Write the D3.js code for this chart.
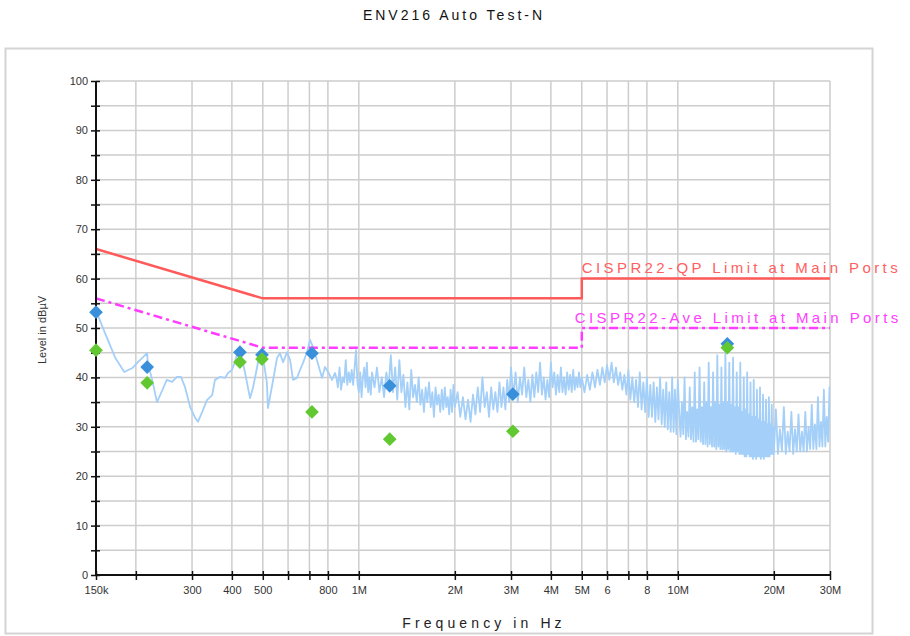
<!DOCTYPE html>
<html>
<head>
<meta charset="utf-8">
<script src="https://cdn.jsdelivr.net/npm/d3@7"></script>
<style>
  body { margin: 0; background: #fff; }
  svg { display: block; font-family: Arial, "Liberation Sans", sans-serif; }
</style>
</head>
<body>
<svg id="chart" width="910" height="636"></svg>
<script>
// limit lines (MHz, dBuV)
const qpLimitMHz = [0.15, 0.5, 5, 5, 30];
const qpLimitDb = [66, 56, 56, 60, 60];
const avgLimitMHz = [0.15, 0.5, 5, 5, 30];
const avgLimitDb = [56, 46, 46, 50, 50];

// final measurement points
const peakFreqMHz = [0.15, 0.217, 0.424, 0.497, 0.713, 1.25, 3.04, 14.3];
const qpLevelDb = [53.2, 42.1, 45.1, 44.6, 44.9, 38.3, 36.6, 46.8];
const avgLevelDb = [45.5, 38.9, 43.1, 43.7, 33.0, 27.5, 29.1, 46.0];

// prescan trace [MHz, dBuV]
const spectrumLow = [
  [0.150,53],[0.152,52.6],[0.160,49],[0.172,44.1],[0.184,41.1],[0.195,41.9],[0.203,43.1],[0.217,44.9],
  [0.218,42.9],[0.225,39.5],[0.233,35.0],[0.242,37.4],[0.250,39.5],[0.260,39.1],[0.269,40.1],[0.277,40.1],
  [0.285,38.1],[0.296,34.0],[0.307,31.8],[0.313,31.0],[0.322,32.8],[0.334,35.4],[0.347,36.4],[0.354,39.5],
  [0.367,40.1],[0.381,39.9],[0.389,40.9],[0.400,41.5],[0.409,43.1],[0.418,45.5],[0.430,43.9],[0.440,40.9],
  [0.456,35.8],[0.466,37.9],[0.480,42.1],[0.490,45.1],[0.501,44.1],[0.515,38.9],[0.519,33.8],[0.534,38.1],
  [0.554,43.9],[0.566,44.9],[0.579,43.1],[0.596,45.1],[0.609,43.5],[0.622,39.5],[0.640,39.9],[0.654,41.5],
  [0.668,42.9],[0.688,45.1],[0.703,47.6],[0.718,46.2],[0.739,43.5],[0.767,39.9],[0.783,42.1],[0.801,41.1],
  [0.824,39.5],[0.842,40.9]
];
const spectrumMid = [
  [0.85,40],[0.86,38],[0.87,42],[0.88,37.5],[0.89,40],[0.90,39],[0.91,43.5],[0.92,38.5],[0.93,41],[0.94,39],
  [0.95,41.5],[0.96,38.5],[0.97,42],[0.98,45.5],[0.99,39],[1.00,37],[1.01,41],[1.02,36],[1.03,40],[1.04,42],
  [1.05,38],[1.06,43],[1.07,37],[1.08,40],[1.09,36.5],[1.10,41],[1.12,38],[1.14,42],[1.16,37],[1.18,40],
  [1.20,36],[1.22,41],[1.24,38],[1.26,44.5],[1.28,37],[1.30,42],[1.32,35.5],[1.34,43.5],[1.36,37],[1.38,40.5],
  [1.40,34],[1.42,39],[1.44,33.5],[1.46,41.5],[1.48,36],[1.50,38.5],[1.52,35],[1.54,40],[1.56,34.5],[1.58,37.5],
  [1.60,33],[1.62,38],[1.64,35],[1.66,39],[1.68,34],[1.70,37],[1.72,32],[1.74,38],[1.76,34.5],[1.78,36.5],
  [1.80,33],[1.82,37.5],[1.84,33.5],[1.86,38],[1.88,34],[1.90,36],[1.92,32.5],[1.94,37.5],[1.96,33],[1.98,38.5],
  [2.00,34],[2.04,37],[2.08,32],[2.12,36],[2.16,31.5],[2.20,35.5],[2.24,31],[2.28,36.5],[2.32,32.5],[2.36,38],
  [2.40,33],[2.44,40],[2.48,34],[2.52,37],[2.56,32],[2.60,38],[2.64,33.5],[2.68,37],[2.72,33],[2.76,39],
  [2.80,34],[2.84,38],[2.88,33.5],[2.92,39.5],[2.96,35],[3.00,42],[3.05,36],[3.10,41],[3.15,35],[3.20,40],
  [3.25,36.5],[3.30,42],[3.35,36],[3.40,39.5],[3.45,35],[3.50,40.5],[3.55,36],[3.60,41],[3.65,37],[3.70,43],
  [3.75,36.5],[3.80,40],[3.85,35.5],[3.90,39.5],[3.95,36],[4.00,43],[4.05,38],[4.10,41],[4.15,36.5],[4.20,40.5],
  [4.25,37],[4.30,42],[4.35,37],[4.40,40],[4.45,36.5],[4.50,41],[4.55,37.5],[4.60,40.5],[4.65,37],[4.70,41.5],
  [4.75,37.5],[4.80,40],[4.85,38],[4.90,41],[4.95,38],[5.00,40]
];
const spectrumHigh = [
  [5.1,37],[5.2,40.5],[5.3,37.5],[5.4,41],[5.5,38],[5.6,41.5],[5.7,38.5],[5.8,42],[5.9,39],[6.0,42.5],
  [6.1,39.5],[6.2,43],[6.3,39],[6.4,42],[6.5,38.5],[6.6,41],[6.7,37.5],[6.8,40.5],[6.9,36.5],[7.0,41.5],
  [7.1,35.5],[7.2,40],[7.3,35],[7.4,39.5],[7.5,34],[7.6,41],[7.7,33.5],[7.8,39],[7.9,33],[8.0,40],
  [8.1,32],[8.2,38.5],[8.3,32],[8.4,39],[8.5,31],[8.6,38],[8.7,31.5],[8.8,40],[8.9,30.5],[9.0,37.5],
  [9.1,30],[9.2,39],[9.3,29.5],[9.4,37],[9.5,29],[9.6,40],[9.7,29],[9.8,37.5],[9.9,28.5],[10.0,39.5],
  [10.1,33],[10.2,28],[10.3,35],[10.4,28.5],[10.5,40],[10.6,27.5],[10.7,33],[10.8,28],[10.9,38],[11.0,27.5],
  [11.1,34],[11.2,27],[11.3,41],[11.4,27],[11.5,33.5],[11.6,27.5],[11.7,42],[11.8,27],[11.9,34],[12.0,26.5],
  [12.1,39],[12.2,26.5],[12.3,35],[12.4,26],[12.5,43],[12.6,26.5],[12.7,34],[12.8,26],[12.9,41],[13.0,26],
  [13.1,35],[13.2,25.5],[13.3,44.5],[13.4,26],[13.5,34.5],[13.6,25.5],[13.7,42],[13.8,25.5],[13.9,35],[14.0,25.5],
  [14.1,45.5],[14.2,25],[14.3,35],[14.4,25.5],[14.5,43],[14.6,25],[14.7,34.5],[14.8,25],[14.9,44],[15.0,25],
  [15.1,34],[15.2,24.5],[15.3,41],[15.4,25],[15.5,34],[15.6,24.5],[15.7,43],[15.8,24.5],[15.9,33],[16.0,24.5],
  [16.1,40],[16.2,24],[16.3,33.5],[16.4,24],[16.5,41],[16.6,24.5],[16.7,32.5],[16.8,24],[16.9,39],[17.0,24],
  [17.1,32],[17.2,23.5],[17.3,39.5],[17.4,24],[17.5,32],[17.6,23.5],[17.7,37.5],[17.8,24],[17.9,31.5],[18.0,24],
  [18.1,38],[18.2,23.5],[18.3,31],[18.4,24],[18.5,36.5],[18.6,23.5],[18.7,31],[18.8,24],[18.9,35.5],[19.0,24],
  [19.1,30.5],[19.2,24],[19.3,36],[19.4,24],[19.5,30.5],[19.6,24.5],[19.7,34.5],[19.8,24.5],[19.9,30],[20.0,24.5],
  [20.3,33.5],[20.6,24.5],[20.9,29.5],[21.2,25],[21.5,34],[21.8,24.5],[22.1,29],[22.4,25],[22.7,33],[23.0,24.5],
  [23.3,29.5],[23.6,25],[23.9,32.5],[24.2,25],[24.5,29],[24.8,25],[25.1,33],[25.4,25],[25.7,30],[26.0,25.5],
  [26.3,34.5],[26.6,25.5],[26.9,30.5],[27.2,25.5],[27.5,36],[27.8,26],[28.1,31],[28.4,26],[28.7,37.5],[29.0,26],
  [29.3,32],[29.6,27],[29.9,38],[30.0,33]
];

// axis ticks
const xTickMHz = [0.15, 0.2, 0.3, 0.4, 0.5, 0.6, 0.7, 0.8, 1, 2, 3, 4, 5, 6, 7, 8, 10, 20, 30];
const xTickLabels = ['150k', '', '300', '400', '500', '', '', '800', '1M', '2M', '3M', '4M', '5M', '6', '', '8', '10M', '20M', '30M'];
const yTicks = [0, 5, 10, 15, 20, 25, 30, 35, 40, 45, 50, 55, 60, 65, 70, 75, 80, 85, 90, 95, 100];

const svg = d3.select('#chart');
const x = d3.scaleLog().domain([0.15, 30]).range([96, 830]);
const y = d3.scaleLinear().domain([0, 100]).range([575, 81]);

svg.append('rect')
    .attr('width', 910).attr('height', 636).attr('fill', '#fff');

// outer frame
svg.append('rect')
    .attr('x', 5.5).attr('y', 48.5)
    .attr('width', 867).attr('height', 585)
    .attr('fill', 'none')
    .attr('stroke', '#d4d4d4')
    .attr('stroke-width', 2);

svg.append('text')
    .attr('x', 454).attr('y', 20)
    .attr('text-anchor', 'middle')
    .attr('font-size', 14)
    .attr('letter-spacing', 3)
    .attr('fill', '#111')
    .text('ENV216 Auto Test-N');

// grid
const grid = svg.append('g').attr('stroke', '#cdcdcd').attr('stroke-width', 1.5);
grid.selectAll('line.h').data(yTicks).enter()
    .append('line')
    .classed('h', true)
    .attr('x1', x(0.15)).attr('x2', x(30))
    .attr('y1', d => y(d)).attr('y2', d => y(d));
grid.selectAll('line.v').data(xTickMHz).enter()
    .append('line')
    .classed('v', true)
    .attr('x1', d => x(d)).attr('x2', d => x(d))
    .attr('y1', y(0)).attr('y2', y(100));

// clip for the data
svg.append('clipPath').attr('id', 'plot')
    .append('rect')
    .attr('x', x(0.15)).attr('y', y(100))
    .attr('width', x(30) - x(0.15)).attr('height', y(0) - y(100));

const plot = svg.append('g').attr('clip-path', 'url(#plot)');

const line = d3.line()
    .x(d => x(d[0]))
    .y(d => y(d[1]));

const spectrum = spectrumLow.concat(spectrumMid, spectrumHigh);
plot.append('path')
    .datum(spectrum)
    .attr('d', line)
    .attr('fill', 'none')
    .attr('stroke', '#a3cff9')
    .attr('stroke-width', 1.8)
    .attr('stroke-linejoin', 'round');

plot.append('path')
    .datum(qpLimitMHz.map((f, i) => [f, qpLimitDb[i]]))
    .attr('d', line)
    .attr('fill', 'none')
    .attr('stroke', '#ff5a5a')
    .attr('stroke-width', 2.5);

plot.append('path')
    .datum(avgLimitMHz.map((f, i) => [f, avgLimitDb[i]]))
    .attr('d', line)
    .attr('fill', 'none')
    .attr('stroke', '#ff3cff')
    .attr('stroke-width', 2.5)
    .attr('stroke-dasharray', '9,4,3,4');

// limit labels
svg.append('text')
    .attr('x', x(5)).attr('y', y(60) - 6)
    .attr('font-size', 15)
    .attr('letter-spacing', 3.4)
    .attr('fill', '#ff6060')
    .text('CISPR22-QP Limit at Main Ports');
svg.append('text')
    .attr('x', x(5) - 7).attr('y', y(50) - 5)
    .attr('font-size', 15)
    .attr('letter-spacing', 3.4)
    .attr('fill', '#ff40ff')
    .text('CISPR22-Ave Limit at Main Ports');

// axes
const yAxis = svg.append('g')
    .attr('transform', `translate(${x(0.15)},0)`)
    .call(d3.axisLeft(y).tickValues(yTicks).tickSize(5).tickPadding(3)
        .tickFormat(d => d % 10 === 0 ? d : ''));
yAxis.selectAll('.tick line').attr('x1', 4).attr('stroke-width', 1.5);

const xAxis = svg.append('g')
    .attr('transform', `translate(0,${y(0)})`)
    .call(d3.axisBottom(x).tickValues(xTickMHz).tickSize(5).tickPadding(6)
        .tickFormat((d, i) => xTickLabels[i]));
xAxis.selectAll('.tick line').attr('y1', -4).attr('stroke-width', 1.5);

[yAxis, xAxis].forEach(a => {
    a.select('.domain').attr('stroke', '#111').attr('stroke-width', 2);
    a.selectAll('.tick line').attr('stroke', '#111');
    a.selectAll('.tick text')
        .attr('font-size', 11)
        .attr('font-family', 'Arial, "Liberation Sans", sans-serif')
        .attr('fill', '#333');
});
yAxis.select('.domain').attr('d', `M0,${y(0)}V${y(100)}`);
xAxis.select('.domain').attr('d', `M${x(0.15)},0H${x(30)}`);

// measured points
const diamond = d3.symbol().type(d3.symbolDiamond2).size(120);
svg.append('g').selectAll('path')
    .data(peakFreqMHz).enter()
    .append('path')
    .attr('d', diamond)
    .attr('transform', (d, i) => `translate(${x(d)},${y(qpLevelDb[i])})`)
    .attr('fill', '#3a8fda');
svg.append('g').selectAll('path')
    .data(peakFreqMHz).enter()
    .append('path')
    .attr('d', diamond)
    .attr('transform', (d, i) => `translate(${x(d)},${y(avgLevelDb[i])})`)
    .attr('fill', '#62c832');

// axis titles
svg.append('text')
    .attr('transform', `translate(46,${y(50) + 2}) rotate(-90)`)
    .attr('text-anchor', 'middle')
    .attr('font-size', 11)
    .attr('fill', '#333')
    .text('Level in dBµV');
svg.append('text')
    .attr('x', 484).attr('y', 628)
    .attr('text-anchor', 'middle')
    .attr('font-size', 14)
    .attr('letter-spacing', 4.1)
    .attr('fill', '#222')
    .text('Frequency in Hz');
</script>
</body>
</html>
